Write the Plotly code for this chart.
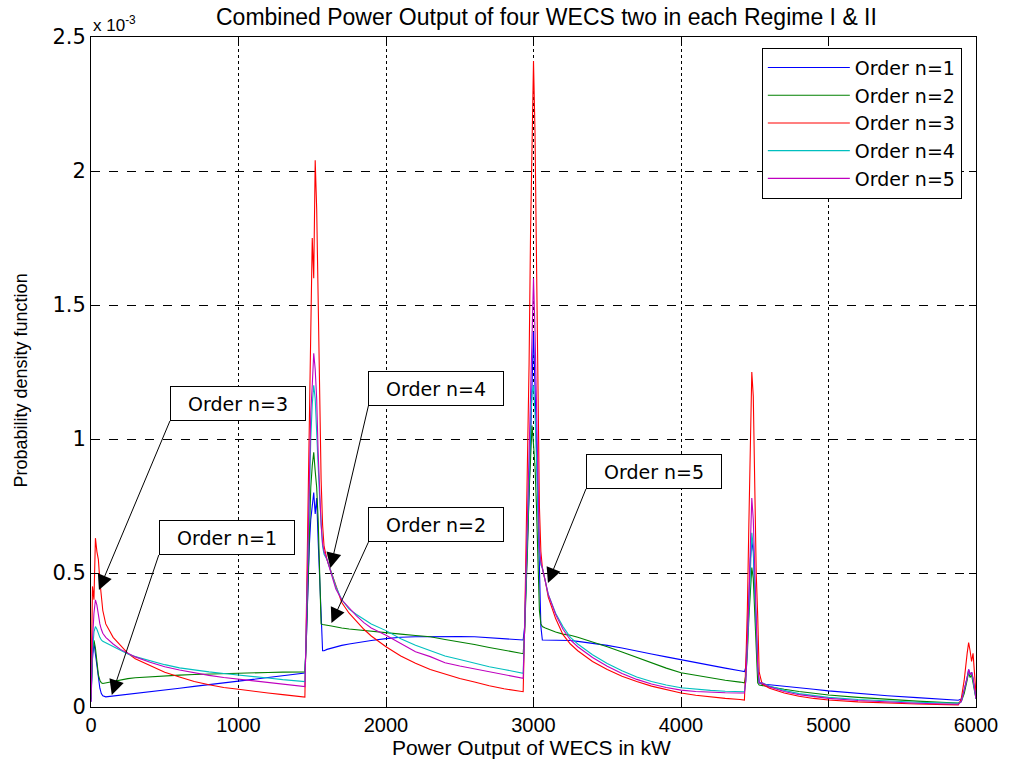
import plotly.graph_objects as go

# ---------------- data (density values in units of 1e-3) ----------------
POWER_KW = [
    0, 10, 20, 30, 40, 50, 60, 70, 80, 100, 150, 200, 250, 300, 400, 500, 600, 700, 800, 900, 1000, 1100, 1200, 1300, 1400, 1450,
    1460, 1470, 1480, 1490, 1500, 1510, 1520, 1530, 1540, 1550, 1560, 1570, 1580,
    1600, 1630, 1660, 1700, 1750, 1800, 1850, 1900, 2000, 2100, 2200, 2300, 2400, 2500, 2600, 2700, 2800, 2900, 2930,
    2940, 2950, 2960, 2970, 2980, 2990, 3000, 3010, 3020, 3030, 3040, 3050,
    3060, 3080, 3100, 3150, 3200, 3250, 3300, 3400, 3500, 3600, 3700, 3800, 3900, 4000, 4100, 4200, 4300, 4400, 4430,
    4440, 4450, 4460, 4470, 4480, 4490, 4500, 4510, 4520, 4530,
    4550, 4600, 4700, 4800, 4900, 5000, 5200, 5400, 5600, 5800, 5880,
    5900, 5920, 5940, 5950, 5960, 5970, 5980, 5990, 6000,
]

ORDER_1 = [
    0.02, 0.18, 0.24, 0.20, 0.15, 0.10, 0.07, 0.05, 0.042, 0.038, 0.041, 0.044, 0.047, 0.050, 0.057, 0.064, 0.070, 0.077, 0.083, 0.089, 0.095, 0.103, 0.110, 0.117, 0.124, 0.127,
    0.25, 0.45, 0.60, 0.70, 0.76, 0.80, 0.72, 0.78, 0.62, 0.45, 0.35, 0.21, 0.21,
    0.215, 0.22, 0.225, 0.23, 0.235, 0.24, 0.245, 0.248, 0.255, 0.26, 0.262, 0.263, 0.263, 0.263, 0.262, 0.258, 0.255, 0.252, 0.25,
    0.30, 0.45, 0.62, 0.80, 1.00, 1.25, 1.40, 1.20, 0.95, 0.74, 0.50, 0.30,
    0.25, 0.25, 0.25, 0.25, 0.25, 0.248, 0.245, 0.238, 0.23, 0.22, 0.21, 0.198, 0.187, 0.176, 0.165, 0.155, 0.145, 0.135, 0.132,
    0.15, 0.25, 0.40, 0.55, 0.62, 0.58, 0.45, 0.30, 0.15, 0.09,
    0.085, 0.083, 0.078, 0.072, 0.066, 0.060, 0.050, 0.042, 0.035, 0.028, 0.025,
    0.03, 0.06, 0.11, 0.14, 0.12, 0.13, 0.10, 0.07, 0.04,
]

ORDER_2 = [
    0.03, 0.20, 0.25, 0.22, 0.17, 0.12, 0.10, 0.09, 0.088, 0.090, 0.097, 0.102, 0.106, 0.109, 0.113, 0.116, 0.119, 0.121, 0.123, 0.125, 0.127, 0.128, 0.129, 0.130, 0.131, 0.131,
    0.25, 0.45, 0.65, 0.82, 0.90, 0.95, 0.88, 0.82, 0.70, 0.50, 0.31, 0.308, 0.306,
    0.305, 0.302, 0.298, 0.295, 0.291, 0.288, 0.285, 0.283, 0.278, 0.272, 0.267, 0.262, 0.252, 0.243, 0.233, 0.222, 0.212, 0.202, 0.199,
    0.28, 0.42, 0.60, 0.80, 0.95, 1.05, 0.98, 0.90, 0.75, 0.55, 0.36, 0.31,
    0.30, 0.295, 0.29, 0.28, 0.272, 0.268, 0.26, 0.243, 0.225, 0.205, 0.185, 0.163, 0.145, 0.128, 0.118, 0.108, 0.10, 0.093, 0.09,
    0.12, 0.20, 0.33, 0.45, 0.52, 0.48, 0.35, 0.20, 0.09, 0.082,
    0.080, 0.075, 0.066, 0.058, 0.051, 0.045, 0.036, 0.028, 0.022, 0.017, 0.015,
    0.02, 0.05, 0.10, 0.13, 0.11, 0.12, 0.09, 0.06, 0.03,
]

ORDER_3 = [
    0.05, 0.45, 0.40, 0.63, 0.58, 0.55, 0.47, 0.42, 0.36, 0.31, 0.26, 0.23, 0.20, 0.18, 0.155, 0.13, 0.112, 0.095, 0.083, 0.073, 0.066, 0.058, 0.052, 0.046, 0.040, 0.037,
    0.35, 0.75, 1.15, 1.48, 1.75, 1.60, 2.04, 1.86, 1.52, 1.13, 0.85, 0.68, 0.60,
    0.55, 0.50, 0.45, 0.39, 0.35, 0.32, 0.29, 0.265, 0.225, 0.19, 0.163, 0.14, 0.122, 0.106, 0.093, 0.079, 0.068, 0.060, 0.057,
    0.30, 0.60, 0.95, 1.28, 1.77, 2.20, 2.41, 2.15, 1.65, 1.10, 0.75, 0.58,
    0.52, 0.47, 0.41, 0.33, 0.27, 0.235, 0.21, 0.17, 0.14, 0.115, 0.095, 0.078, 0.064, 0.052, 0.044, 0.037, 0.032, 0.028, 0.026,
    0.17, 0.37, 0.68, 1.04, 1.25, 1.16, 0.77, 0.50, 0.34, 0.13,
    0.085, 0.070, 0.052, 0.040, 0.032, 0.026, 0.019, 0.014, 0.011, 0.009, 0.008,
    0.03, 0.10, 0.20, 0.24, 0.21, 0.17, 0.20, 0.12, 0.05,
]

ORDER_4 = [
    0.03, 0.20, 0.28, 0.30, 0.29, 0.27, 0.26, 0.25, 0.245, 0.24, 0.225, 0.21, 0.198, 0.188, 0.172, 0.158, 0.146, 0.138, 0.131, 0.125, 0.12, 0.114, 0.108, 0.102, 0.097, 0.095,
    0.30, 0.55, 0.80, 1.00, 1.13, 1.20, 1.15, 1.05, 0.90, 0.78, 0.68, 0.60, 0.57,
    0.55, 0.50, 0.45, 0.40, 0.365, 0.345, 0.327, 0.31, 0.285, 0.255, 0.23, 0.21, 0.19, 0.177, 0.163, 0.15, 0.14, 0.13, 0.126,
    0.30, 0.50, 0.70, 0.90, 1.05, 1.17, 1.20, 1.10, 0.90, 0.70, 0.58, 0.53,
    0.52, 0.47, 0.42, 0.35, 0.30, 0.26, 0.235, 0.195, 0.162, 0.135, 0.112, 0.095, 0.082, 0.072, 0.066, 0.062, 0.059, 0.057, 0.057,
    0.10, 0.20, 0.35, 0.50, 0.65, 0.60, 0.45, 0.30, 0.15, 0.09,
    0.090, 0.078, 0.062, 0.050, 0.042, 0.036, 0.028, 0.022, 0.018, 0.015, 0.014,
    0.02, 0.06, 0.11, 0.13, 0.12, 0.13, 0.10, 0.07, 0.03,
]

ORDER_5 = [
    0.02, 0.25, 0.35, 0.40, 0.38, 0.34, 0.31, 0.29, 0.275, 0.26, 0.235, 0.215, 0.20, 0.187, 0.167, 0.15, 0.138, 0.127, 0.118, 0.11, 0.104, 0.097, 0.09, 0.084, 0.078, 0.076,
    0.30, 0.60, 0.90, 1.10, 1.20, 1.32, 1.26, 1.15, 0.95, 0.80, 0.68, 0.61, 0.58,
    0.55, 0.49, 0.44, 0.40, 0.37, 0.34, 0.315, 0.295, 0.268, 0.237, 0.206, 0.188, 0.165, 0.153, 0.142, 0.13, 0.12, 0.11, 0.107,
    0.30, 0.52, 0.75, 1.00, 1.25, 1.45, 1.60, 1.41, 1.10, 0.80, 0.60, 0.54,
    0.52, 0.47, 0.42, 0.345, 0.29, 0.25, 0.225, 0.185, 0.152, 0.125, 0.103, 0.086, 0.073, 0.063, 0.058, 0.055, 0.053, 0.052, 0.052,
    0.10, 0.22, 0.40, 0.60, 0.78, 0.70, 0.50, 0.30, 0.15, 0.09,
    0.090, 0.075, 0.058, 0.046, 0.038, 0.032, 0.024, 0.018, 0.014, 0.011, 0.010,
    0.02, 0.06, 0.11, 0.14, 0.12, 0.13, 0.11, 0.07, 0.03,
]

SERIES_NAMES = ["Order n=1", "Order n=2", "Order n=3", "Order n=4", "Order n=5"]
SERIES_COLORS = ["#0000ff", "#008000", "#ff0000", "#00bfbf", "#bf00bf"]

X_TICKS = [0, 1000, 2000, 3000, 4000, 5000, 6000]
Y_TICKS = [0, 0.5, 1.0, 1.5, 2.0, 2.5]
Y_TICK_TEXT = ["0", "0.5", "1", "1.5", "2", "2.5"]

# annotation callouts: (label, x of arrow tip, y of arrow tip, tail dx px, tail dy px)
CALLOUT_LABELS = ["Order n=3", "Order n=1", "Order n=4", "Order n=2", "Order n=5"]
CALLOUT_X = [54, 141, 1623, 1630, 3098]
CALLOUT_Y = [0.437, 0.045, 0.519, 0.313, 0.463]
CALLOUT_AX = [71, 47, 38, 37, 38]
CALLOUT_AY = [-169, -140, -162, -81, -94]

# ---------------- figure ----------------
all_series = [ORDER_1, ORDER_2, ORDER_3, ORDER_4, ORDER_5]
for s in all_series:
    assert len(s) == len(POWER_KW), (len(s), len(POWER_KW))

fig = go.Figure()
for name, color, vals in zip(SERIES_NAMES, SERIES_COLORS, all_series):
    fig.add_trace(go.Scatter(x=POWER_KW, y=vals, mode="lines", name=name,
                             line=dict(color=color, width=1.1)))

WIDE = "DejaVu Sans"
ARIAL = "Liberation Sans"

fig.update_layout(
    width=1010, height=761,
    margin=dict(l=91, r=28, t=37, b=54),
    paper_bgcolor="white", plot_bgcolor="white",
    font=dict(family=ARIAL, color="black"),
    showlegend=True,
    legend=dict(x=0.758, y=0.984, xanchor="left", yanchor="top",
                bgcolor="white", bordercolor="black", borderwidth=1,
                font=dict(family=WIDE, size=19, color="black"),
                itemwidth=82, tracegroupgap=0),
)

fig.update_xaxes(range=[0, 6000], tickvals=X_TICKS, ticks="inside", ticklen=7,
                 tickcolor="black", showline=True, linecolor="black", linewidth=1,
                 mirror="ticks", showgrid=True, gridcolor="black", gridwidth=1,
                 griddash="dot", zeroline=False,
                 tickfont=dict(family=ARIAL, size=20, color="black"))
fig.update_yaxes(range=[0, 2.5], tickvals=Y_TICKS, ticktext=Y_TICK_TEXT,
                 ticks="inside", ticklen=7, tickcolor="black", showline=True,
                 linecolor="black", linewidth=1, mirror="ticks", showgrid=True,
                 gridcolor="black", gridwidth=1, griddash="dash", zeroline=False,
                 tickfont=dict(family=WIDE, size=21, color="black"))

annotations = [
    dict(text="Combined Power Output of four WECS two in each Regime I &amp; II",
         xref="paper", yref="paper", x=0.515, y=1.03, xanchor="center", yanchor="middle",
         showarrow=False, font=dict(family=ARIAL, size=23, color="black")),
    dict(text="x 10<sup>-3</sup>", xref="paper", yref="paper", x=0.0, y=1.0,
         xanchor="left", yanchor="bottom", showarrow=False,
         font=dict(family=ARIAL, size=17, color="black")),
    dict(text="Power Output of WECS in kW", xref="paper", yref="paper", x=0.498, y=0,
         xanchor="center", yanchor="bottom", yshift=-53, borderpad=0, showarrow=False,
         font=dict(family=ARIAL, size=21, color="black")),
    dict(text="Probability density function", xref="paper", yref="paper", x=-0.0786, y=0.488,
         xanchor="center", yanchor="middle", textangle=-90, showarrow=False,
         font=dict(family=ARIAL, size=18, color="black")),
]
for lab, cx, cy, dx, dy in zip(CALLOUT_LABELS, CALLOUT_X, CALLOUT_Y, CALLOUT_AX, CALLOUT_AY):
    annotations.append(dict(
        text=lab, x=cx, y=cy, xref="x", yref="y", ax=dx, ay=dy,
        axref="pixel", ayref="pixel", showarrow=True, arrowhead=2, arrowsize=3,
        arrowwidth=1, arrowcolor="black", bordercolor="black", borderwidth=1,
        borderpad=0, bgcolor="white", width=134, height=33,
        xanchor="left", yanchor="bottom",
        font=dict(family=WIDE, size=19, color="black")))
fig.update_layout(annotations=annotations)

fig.write_html("out.html")
